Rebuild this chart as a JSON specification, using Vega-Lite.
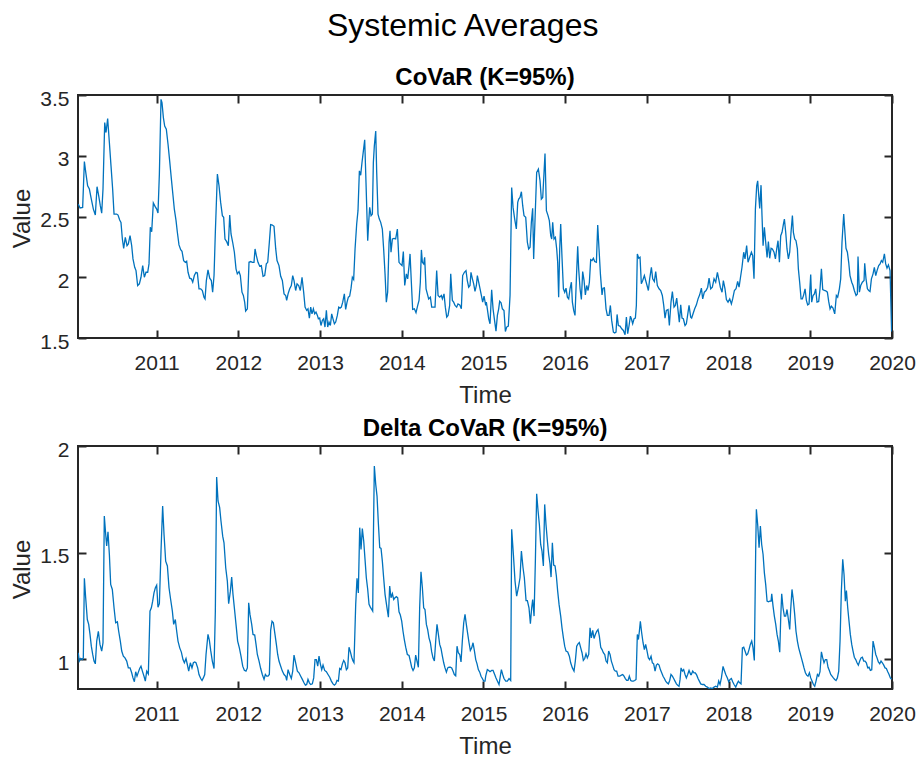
{
  "$schema": "https://vega.github.io/schema/vega-lite/v6.json",
  "background": "white",
  "padding": {"left": 9, "top": 10, "right": 4, "bottom": 0},
  "title": {"text": "Systemic Averages", "fontSize": 32, "fontWeight": "normal", "font": "Liberation Sans", "color": "#000000", "anchor": "middle", "frame": "bounds", "offset": -3, "baseline": "alphabetic"},
  "config": {
    "font": "Liberation Sans",
    "view": {"stroke": "#262626", "strokeWidth": 2},
    "axis": {"grid": false, "domain": false, "tickColor": "#262626", "tickWidth": 2, "tickSize": -8, "labelColor": "#262626", "labelFontSize": 21, "labelFont": "Liberation Sans", "titleFont": "Liberation Sans", "titleFontSize": 24, "titleFontWeight": "normal", "titleColor": "#262626", "labelFlush": false, "labelOverlap": false}
  },
  "bounds": "flush",
  "spacing": 108,
  "datasets": {
    "covar": [
{"t":2010.04,"v":2.602},{"t":2010.062,"v":2.570},{"t":2010.094,"v":2.575},{"t":2010.115,"v":2.953},{"t":2010.135,"v":2.849},{"t":2010.155,"v":2.753},{"t":2010.176,"v":2.726},{"t":2010.200,"v":2.643},{"t":2010.225,"v":2.561},{"t":2010.249,"v":2.512},{"t":2010.270,"v":2.745},{"t":2010.290,"v":2.671},{"t":2010.310,"v":2.589},{"t":2010.327,"v":2.528},{"t":2010.343,"v":2.726},{"t":2010.364,"v":3.273},{"t":2010.380,"v":3.191},{"t":2010.400,"v":3.306},{"t":2010.421,"v":3.109},{"t":2010.441,"v":2.917},{"t":2010.461,"v":2.726},{"t":2010.478,"v":2.520},{"t":2010.510,"v":2.520},{"t":2010.527,"v":2.512},{"t":2010.547,"v":2.471},{"t":2010.563,"v":2.452},{"t":2010.580,"v":2.315},{"t":2010.596,"v":2.238},{"t":2010.616,"v":2.329},{"t":2010.637,"v":2.260},{"t":2010.653,"v":2.274},{"t":2010.674,"v":2.342},{"t":2010.694,"v":2.260},{"t":2010.710,"v":2.151},{"t":2010.731,"v":2.082},{"t":2010.747,"v":2.055},{"t":2010.767,"v":1.932},{"t":2010.788,"v":1.946},{"t":2010.808,"v":2.000},{"t":2010.829,"v":2.096},{"t":2010.849,"v":2.000},{"t":2010.869,"v":2.041},{"t":2010.890,"v":2.041},{"t":2010.906,"v":2.110},{"t":2010.922,"v":2.411},{"t":2010.939,"v":2.375},{"t":2010.959,"v":2.611},{"t":2010.980,"v":2.583},{"t":2011.000,"v":2.561},{"t":2011.016,"v":2.528},{"t":2011.033,"v":2.849},{"t":2011.053,"v":3.464},{"t":2011.065,"v":3.437},{"t":2011.082,"v":3.314},{"t":2011.098,"v":3.245},{"t":2011.118,"v":3.218},{"t":2011.139,"v":3.095},{"t":2011.159,"v":2.958},{"t":2011.180,"v":2.808},{"t":2011.200,"v":2.671},{"t":2011.216,"v":2.561},{"t":2011.237,"v":2.466},{"t":2011.253,"v":2.370},{"t":2011.273,"v":2.266},{"t":2011.294,"v":2.227},{"t":2011.310,"v":2.214},{"t":2011.330,"v":2.137},{"t":2011.351,"v":2.123},{"t":2011.367,"v":2.132},{"t":2011.384,"v":2.041},{"t":2011.404,"v":1.992},{"t":2011.424,"v":1.987},{"t":2011.441,"v":1.959},{"t":2011.461,"v":2.014},{"t":2011.481,"v":2.041},{"t":2011.498,"v":2.036},{"t":2011.518,"v":1.905},{"t":2011.539,"v":1.905},{"t":2011.559,"v":1.891},{"t":2011.579,"v":1.836},{"t":2011.592,"v":1.822},{"t":2011.608,"v":1.973},{"t":2011.628,"v":2.061},{"t":2011.649,"v":1.992},{"t":2011.669,"v":1.973},{"t":2011.685,"v":1.877},{"t":2011.702,"v":2.014},{"t":2011.718,"v":2.370},{"t":2011.743,"v":2.849},{"t":2011.763,"v":2.753},{"t":2011.783,"v":2.616},{"t":2011.804,"v":2.507},{"t":2011.820,"v":2.493},{"t":2011.836,"v":2.315},{"t":2011.857,"v":2.293},{"t":2011.877,"v":2.260},{"t":2011.894,"v":2.512},{"t":2011.910,"v":2.356},{"t":2011.930,"v":2.288},{"t":2011.951,"v":2.206},{"t":2011.971,"v":2.069},{"t":2011.987,"v":2.028},{"t":2012.008,"v":2.047},{"t":2012.024,"v":2.014},{"t":2012.044,"v":1.877},{"t":2012.061,"v":1.850},{"t":2012.077,"v":1.795},{"t":2012.089,"v":1.721},{"t":2012.110,"v":1.740},{"t":2012.130,"v":2.123},{"t":2012.151,"v":2.129},{"t":2012.171,"v":2.123},{"t":2012.191,"v":2.123},{"t":2012.204,"v":2.233},{"t":2012.220,"v":2.178},{"t":2012.240,"v":2.123},{"t":2012.261,"v":2.091},{"t":2012.281,"v":2.096},{"t":2012.302,"v":2.008},{"t":2012.322,"v":2.014},{"t":2012.342,"v":2.110},{"t":2012.359,"v":2.123},{"t":2012.379,"v":2.288},{"t":2012.395,"v":2.433},{"t":2012.416,"v":2.430},{"t":2012.436,"v":2.419},{"t":2012.457,"v":2.233},{"t":2012.473,"v":2.137},{"t":2012.497,"v":2.096},{"t":2012.518,"v":2.008},
{"t":2012.538,"v":1.973},{"t":2012.559,"v":1.863},{"t":2012.579,"v":1.850},{"t":2012.591,"v":1.809},{"t":2012.608,"v":1.863},{"t":2012.628,"v":1.905},{"t":2012.648,"v":1.932},{"t":2012.665,"v":2.014},{"t":2012.681,"v":1.973},{"t":2012.701,"v":1.891},{"t":2012.718,"v":1.946},{"t":2012.738,"v":1.932},{"t":2012.758,"v":1.891},{"t":2012.779,"v":2.000},{"t":2012.799,"v":1.877},{"t":2012.816,"v":1.754},{"t":2012.836,"v":1.727},{"t":2012.852,"v":1.740},{"t":2012.869,"v":1.664},{"t":2012.885,"v":1.754},{"t":2012.901,"v":1.699},{"t":2012.918,"v":1.740},{"t":2012.934,"v":1.699},{"t":2012.950,"v":1.713},{"t":2012.967,"v":1.686},{"t":2012.979,"v":1.658},{"t":2012.995,"v":1.664},{"t":2013.011,"v":1.603},{"t":2013.028,"v":1.645},{"t":2013.044,"v":1.658},{"t":2013.060,"v":1.590},{"t":2013.077,"v":1.727},{"t":2013.093,"v":1.590},{"t":2013.109,"v":1.631},{"t":2013.126,"v":1.603},{"t":2013.142,"v":1.699},{"t":2013.158,"v":1.658},{"t":2013.175,"v":1.617},{"t":2013.191,"v":1.631},{"t":2013.211,"v":1.686},{"t":2013.228,"v":1.754},{"t":2013.244,"v":1.746},{"t":2013.260,"v":1.754},{"t":2013.277,"v":1.795},{"t":2013.297,"v":1.863},{"t":2013.313,"v":1.735},{"t":2013.330,"v":1.795},{"t":2013.346,"v":1.836},{"t":2013.362,"v":1.844},{"t":2013.379,"v":1.910},{"t":2013.395,"v":2.000},{"t":2013.411,"v":1.981},{"t":2013.428,"v":2.233},{"t":2013.448,"v":2.438},{"t":2013.464,"v":2.548},{"t":2013.481,"v":2.876},{"t":2013.497,"v":2.840},{"t":2013.513,"v":2.944},{"t":2013.530,"v":3.040},{"t":2013.546,"v":3.131},{"t":2013.562,"v":2.780},{"t":2013.583,"v":2.301},{"t":2013.595,"v":2.452},{"t":2013.607,"v":2.575},{"t":2013.624,"v":2.507},{"t":2013.640,"v":2.520},{"t":2013.652,"v":2.944},{"t":2013.664,"v":3.081},{"t":2013.681,"v":3.204},{"t":2013.693,"v":2.862},{"t":2013.709,"v":2.520},{"t":2013.725,"v":2.479},{"t":2013.742,"v":2.452},{"t":2013.762,"v":2.397},{"t":2013.778,"v":2.233},{"t":2013.795,"v":2.028},{"t":2013.811,"v":1.795},{"t":2013.827,"v":1.877},{"t":2013.844,"v":2.288},{"t":2013.856,"v":2.383},{"t":2013.868,"v":2.206},{"t":2013.885,"v":2.315},{"t":2013.905,"v":2.320},{"t":2013.925,"v":2.315},{"t":2013.946,"v":2.397},{"t":2013.966,"v":2.123},{"t":2013.982,"v":2.110},{"t":2014.003,"v":2.096},{"t":2014.019,"v":2.211},{"t":2014.036,"v":1.932},{"t":2014.056,"v":2.028},{"t":2014.072,"v":1.987},{"t":2014.089,"v":2.096},{"t":2014.101,"v":2.192},{"t":2014.117,"v":1.959},{"t":2014.133,"v":1.735},{"t":2014.154,"v":1.740},{"t":2014.174,"v":1.708},{"t":2014.195,"v":1.768},{"t":2014.211,"v":1.809},{"t":2014.227,"v":1.959},{"t":2014.240,"v":2.225},{"t":2014.252,"v":2.123},{"t":2014.268,"v":2.110},{"t":2014.280,"v":2.164},{"t":2014.297,"v":1.905},{"t":2014.313,"v":1.863},{"t":2014.329,"v":1.822},{"t":2014.350,"v":1.836},{"t":2014.366,"v":1.754},{"t":2014.386,"v":1.754},{"t":2014.407,"v":1.754},{"t":2014.427,"v":2.055},{"t":2014.444,"v":1.850},{"t":2014.464,"v":1.836},{"t":2014.484,"v":1.850},{"t":2014.497,"v":1.822},{"t":2014.517,"v":1.863},{"t":2014.533,"v":1.754},{"t":2014.550,"v":1.672},{"t":2014.566,"v":1.686},{"t":2014.586,"v":1.768},{"t":2014.599,"v":2.028},{"t":2014.619,"v":1.809},{"t":2014.635,"v":1.795},{"t":2014.652,"v":1.768},{"t":2014.672,"v":1.754},{"t":2014.688,"v":1.781},{"t":2014.709,"v":1.773},{"t":2014.729,"v":1.740},{"t":2014.745,"v":2.014},{"t":2014.766,"v":2.041},{"t":2014.786,"v":2.055},{"t":2014.802,"v":1.973},{"t":2014.819,"v":1.918},{"t":2014.835,"v":1.932},{"t":2014.847,"v":2.041},{"t":2014.864,"v":1.987},{"t":2014.880,"v":1.946},{"t":2014.896,"v":1.883},{"t":2014.913,"v":1.932},{"t":2014.925,"v":2.014},{"t":2014.941,"v":1.959},{"t":2014.958,"v":1.905},{"t":2014.974,"v":1.850},{"t":2014.990,"v":1.795},{"t":2015.007,"v":1.844},{"t":2015.027,"v":1.768},
{"t":2015.035,"v":1.795},{"t":2015.047,"v":1.740},{"t":2015.064,"v":1.658},{"t":2015.080,"v":1.617},{"t":2015.100,"v":1.896},{"t":2015.117,"v":1.740},{"t":2015.133,"v":1.658},{"t":2015.153,"v":1.557},{"t":2015.170,"v":1.686},{"t":2015.186,"v":1.740},{"t":2015.198,"v":1.803},{"t":2015.215,"v":1.790},{"t":2015.231,"v":1.740},{"t":2015.251,"v":1.727},{"t":2015.268,"v":1.554},{"t":2015.284,"v":1.590},{"t":2015.304,"v":1.598},{"t":2015.325,"v":1.850},{"t":2015.345,"v":2.739},{"t":2015.362,"v":2.575},{"t":2015.382,"v":2.479},{"t":2015.402,"v":2.397},{"t":2015.419,"v":2.616},{"t":2015.431,"v":2.643},{"t":2015.447,"v":2.657},{"t":2015.464,"v":2.704},{"t":2015.480,"v":2.589},{"t":2015.496,"v":2.507},{"t":2015.517,"v":2.493},{"t":2015.537,"v":2.288},{"t":2015.553,"v":2.233},{"t":2015.570,"v":2.247},{"t":2015.586,"v":2.452},{"t":2015.602,"v":2.567},{"t":2015.614,"v":2.151},{"t":2015.631,"v":2.479},{"t":2015.651,"v":2.862},{"t":2015.672,"v":2.890},{"t":2015.692,"v":2.794},{"t":2015.708,"v":2.643},{"t":2015.725,"v":2.657},{"t":2015.741,"v":2.862},{"t":2015.753,"v":3.018},{"t":2015.770,"v":2.548},{"t":2015.790,"v":2.507},{"t":2015.806,"v":2.466},{"t":2015.823,"v":2.342},{"t":2015.835,"v":2.315},{"t":2015.847,"v":2.452},{"t":2015.863,"v":2.315},{"t":2015.880,"v":2.329},{"t":2015.896,"v":2.233},{"t":2015.908,"v":2.123},{"t":2015.920,"v":1.836},{"t":2015.933,"v":2.233},{"t":2015.945,"v":2.438},{"t":2015.961,"v":2.164},{"t":2015.978,"v":1.905},{"t":2015.994,"v":1.877},{"t":2016.010,"v":1.910},{"t":2016.027,"v":1.836},{"t":2016.043,"v":1.822},{"t":2016.059,"v":1.905},{"t":2016.076,"v":1.959},{"t":2016.088,"v":1.795},{"t":2016.104,"v":1.727},{"t":2016.120,"v":1.686},{"t":2016.137,"v":1.987},{"t":2016.153,"v":2.255},{"t":2016.165,"v":2.069},{"t":2016.182,"v":1.905},{"t":2016.198,"v":1.817},{"t":2016.214,"v":2.047},{"t":2016.231,"v":1.973},{"t":2016.247,"v":1.855},{"t":2016.263,"v":1.932},{"t":2016.280,"v":1.891},{"t":2016.296,"v":1.959},{"t":2016.312,"v":2.145},{"t":2016.328,"v":2.137},{"t":2016.345,"v":2.156},{"t":2016.361,"v":2.129},{"t":2016.382,"v":2.123},{"t":2016.398,"v":2.430},{"t":2016.414,"v":2.233},{"t":2016.431,"v":2.028},{"t":2016.451,"v":1.855},{"t":2016.463,"v":1.910},{"t":2016.480,"v":1.913},{"t":2016.500,"v":1.740},{"t":2016.516,"v":1.686},{"t":2016.537,"v":1.686},{"t":2016.553,"v":1.768},{"t":2016.569,"v":1.645},{"t":2016.590,"v":1.549},{"t":2016.606,"v":1.541},{"t":2016.622,"v":1.549},{"t":2016.635,"v":1.694},{"t":2016.651,"v":1.603},{"t":2016.671,"v":1.598},{"t":2016.692,"v":1.576},{"t":2016.712,"v":1.562},{"t":2016.733,"v":1.527},{"t":2016.749,"v":1.672},{"t":2016.765,"v":1.535},{"t":2016.782,"v":1.603},{"t":2016.798,"v":1.680},{"t":2016.810,"v":1.658},{"t":2016.826,"v":1.617},{"t":2016.843,"v":1.658},{"t":2016.859,"v":1.664},{"t":2016.871,"v":1.768},{"t":2016.883,"v":2.192},{"t":2016.900,"v":2.156},{"t":2016.916,"v":2.164},{"t":2016.932,"v":1.946},{"t":2016.949,"v":1.973},{"t":2016.969,"v":2.014},{"t":2016.985,"v":1.973},{"t":2017.002,"v":1.932},{"t":2017.018,"v":1.891},{"t":2017.034,"v":1.987},{"t":2017.055,"v":2.082},{"t":2017.071,"v":1.987},{"t":2017.091,"v":1.965},{"t":2017.108,"v":2.047},{"t":2017.128,"v":1.932},{"t":2017.149,"v":1.905},{"t":2017.169,"v":1.891},{"t":2017.189,"v":1.850},{"t":2017.206,"v":1.768},{"t":2017.222,"v":1.664},{"t":2017.238,"v":1.727},{"t":2017.259,"v":1.735},{"t":2017.275,"v":1.603},{"t":2017.295,"v":1.795},{"t":2017.312,"v":1.883},{"t":2017.332,"v":1.754},{"t":2017.348,"v":1.768},{"t":2017.365,"v":1.828},{"t":2017.381,"v":1.727},{"t":2017.397,"v":1.631},{"t":2017.414,"v":1.773},{"t":2017.430,"v":1.664},{"t":2017.446,"v":1.658},{"t":2017.467,"v":1.603},{"t":2017.483,"v":1.617},{"t":2017.499,"v":1.691},{"t":2017.516,"v":1.768},{"t":2017.536,"v":1.672},
{"t":2017.548,"v":1.664},{"t":2017.565,"v":1.699},{"t":2017.585,"v":1.740},{"t":2017.606,"v":1.773},{"t":2017.626,"v":1.822},{"t":2017.646,"v":1.855},{"t":2017.667,"v":1.910},{"t":2017.683,"v":1.822},{"t":2017.703,"v":1.877},{"t":2017.724,"v":1.891},{"t":2017.744,"v":1.918},{"t":2017.761,"v":1.992},{"t":2017.781,"v":1.905},{"t":2017.801,"v":1.918},{"t":2017.822,"v":1.987},{"t":2017.842,"v":1.959},{"t":2017.863,"v":2.041},{"t":2017.879,"v":1.987},{"t":2017.899,"v":1.918},{"t":2017.920,"v":1.877},{"t":2017.936,"v":1.973},{"t":2017.956,"v":1.905},{"t":2017.973,"v":1.817},{"t":2017.993,"v":1.795},{"t":2018.014,"v":1.822},{"t":2018.034,"v":1.781},{"t":2018.050,"v":1.822},{"t":2018.071,"v":1.891},{"t":2018.091,"v":1.905},{"t":2018.111,"v":1.965},{"t":2018.128,"v":1.918},{"t":2018.144,"v":1.992},{"t":2018.164,"v":2.082},{"t":2018.185,"v":2.206},{"t":2018.201,"v":2.151},{"t":2018.221,"v":2.260},{"t":2018.238,"v":2.123},{"t":2018.258,"v":2.164},{"t":2018.279,"v":2.206},{"t":2018.295,"v":2.178},{"t":2018.311,"v":1.987},{"t":2018.328,"v":2.561},{"t":2018.344,"v":2.753},{"t":2018.356,"v":2.794},{"t":2018.369,"v":2.671},{"t":2018.381,"v":2.567},{"t":2018.397,"v":2.758},{"t":2018.409,"v":2.507},{"t":2018.422,"v":2.260},{"t":2018.438,"v":2.411},{"t":2018.454,"v":2.288},{"t":2018.471,"v":2.164},{"t":2018.487,"v":2.293},{"t":2018.503,"v":2.156},{"t":2018.520,"v":2.238},{"t":2018.536,"v":2.233},{"t":2018.556,"v":2.206},{"t":2018.573,"v":2.151},{"t":2018.589,"v":2.233},{"t":2018.605,"v":2.301},{"t":2018.622,"v":2.123},{"t":2018.638,"v":2.342},{"t":2018.654,"v":2.370},{"t":2018.671,"v":2.438},{"t":2018.683,"v":2.479},{"t":2018.699,"v":2.370},{"t":2018.715,"v":2.233},{"t":2018.732,"v":2.151},{"t":2018.748,"v":2.206},{"t":2018.764,"v":2.370},{"t":2018.781,"v":2.507},{"t":2018.793,"v":2.370},{"t":2018.809,"v":2.315},{"t":2018.825,"v":2.301},{"t":2018.842,"v":2.233},{"t":2018.854,"v":2.069},{"t":2018.870,"v":1.959},{"t":2018.887,"v":1.822},{"t":2018.903,"v":1.822},{"t":2018.919,"v":1.855},{"t":2018.936,"v":1.905},{"t":2018.952,"v":1.809},{"t":2018.968,"v":1.773},{"t":2018.985,"v":1.781},{"t":2019.005,"v":2.022},{"t":2019.017,"v":1.795},{"t":2019.034,"v":1.850},{"t":2019.050,"v":1.863},{"t":2019.066,"v":1.905},{"t":2019.082,"v":1.795},{"t":2019.103,"v":1.801},{"t":2019.119,"v":1.905},{"t":2019.136,"v":2.069},{"t":2019.152,"v":1.899},{"t":2019.172,"v":1.891},{"t":2019.189,"v":1.888},{"t":2019.209,"v":1.877},{"t":2019.225,"v":1.801},{"t":2019.242,"v":1.740},{"t":2019.258,"v":1.762},{"t":2019.278,"v":1.746},{"t":2019.299,"v":1.699},{"t":2019.319,"v":1.850},{"t":2019.335,"v":1.836},{"t":2019.356,"v":1.905},{"t":2019.372,"v":1.987},{"t":2019.388,"v":2.288},{"t":2019.409,"v":2.520},{"t":2019.421,"v":2.397},{"t":2019.437,"v":2.238},{"t":2019.454,"v":2.206},{"t":2019.470,"v":2.123},{"t":2019.486,"v":2.014},{"t":2019.507,"v":1.959},{"t":2019.523,"v":1.932},{"t":2019.539,"v":1.891},{"t":2019.560,"v":1.850},{"t":2019.576,"v":1.863},{"t":2019.584,"v":2.170},{"t":2019.601,"v":1.877},{"t":2019.617,"v":1.932},{"t":2019.637,"v":1.959},{"t":2019.658,"v":1.973},{"t":2019.666,"v":2.115},{"t":2019.682,"v":1.987},{"t":2019.699,"v":1.905},{"t":2019.715,"v":1.891},{"t":2019.731,"v":1.883},{"t":2019.748,"v":1.987},{"t":2019.768,"v":2.028},{"t":2019.784,"v":2.082},{"t":2019.801,"v":2.014},{"t":2019.817,"v":2.055},{"t":2019.837,"v":2.096},{"t":2019.854,"v":2.110},{"t":2019.870,"v":2.137},{"t":2019.886,"v":2.123},{"t":2019.907,"v":2.192},{"t":2019.923,"v":2.110},{"t":2019.939,"v":2.075},{"t":2019.956,"v":2.102},{"t":2019.976,"v":2.055},{"t":2019.995,"v":1.554}
    ],
    "delta": [
{"t":2010.04,"v":1.030},{"t":2010.053,"v":0.991},{"t":2010.070,"v":1.003},{"t":2010.090,"v":0.998},{"t":2010.102,"v":1.006},{"t":2010.115,"v":1.379},{"t":2010.131,"v":1.288},{"t":2010.151,"v":1.186},{"t":2010.168,"v":1.163},{"t":2010.184,"v":1.116},{"t":2010.200,"v":1.061},{"t":2010.217,"v":1.022},{"t":2010.233,"v":0.991},{"t":2010.249,"v":0.978},{"t":2010.266,"v":1.085},{"t":2010.286,"v":1.131},{"t":2010.306,"v":1.069},{"t":2010.327,"v":1.038},{"t":2010.343,"v":1.077},{"t":2010.359,"v":1.671},{"t":2010.376,"v":1.585},{"t":2010.388,"v":1.531},{"t":2010.404,"v":1.598},{"t":2010.421,"v":1.491},{"t":2010.437,"v":1.351},{"t":2010.457,"v":1.327},{"t":2010.478,"v":1.241},{"t":2010.498,"v":1.171},{"t":2010.519,"v":1.175},{"t":2010.535,"v":1.131},{"t":2010.555,"v":1.085},{"t":2010.572,"v":1.038},{"t":2010.592,"v":1.014},{"t":2010.612,"v":1.006},{"t":2010.633,"v":0.991},{"t":2010.653,"v":0.959},{"t":2010.674,"v":0.959},{"t":2010.694,"v":0.936},{"t":2010.710,"v":0.912},{"t":2010.727,"v":0.894},{"t":2010.743,"v":0.941},{"t":2010.759,"v":0.920},{"t":2010.776,"v":0.939},{"t":2010.792,"v":0.956},{"t":2010.808,"v":0.967},{"t":2010.825,"v":0.944},{"t":2010.845,"v":0.920},{"t":2010.861,"v":0.897},{"t":2010.878,"v":0.944},{"t":2010.898,"v":0.931},{"t":2010.918,"v":1.225},{"t":2010.935,"v":1.241},{"t":2010.951,"v":1.272},{"t":2010.967,"v":1.311},{"t":2010.984,"v":1.335},{"t":2011.000,"v":1.347},{"t":2011.016,"v":1.244},{"t":2011.033,"v":1.260},{"t":2011.053,"v":1.507},{"t":2011.073,"v":1.718},{"t":2011.090,"v":1.585},{"t":2011.110,"v":1.460},{"t":2011.131,"v":1.437},{"t":2011.151,"v":1.335},{"t":2011.171,"v":1.280},{"t":2011.192,"v":1.225},{"t":2011.208,"v":1.163},{"t":2011.228,"v":1.186},{"t":2011.245,"v":1.131},{"t":2011.261,"v":1.085},{"t":2011.282,"v":1.053},{"t":2011.302,"v":1.033},{"t":2011.322,"v":0.998},{"t":2011.339,"v":0.983},{"t":2011.359,"v":1.003},{"t":2011.375,"v":0.975},{"t":2011.392,"v":0.944},{"t":2011.412,"v":0.983},{"t":2011.432,"v":0.959},{"t":2011.449,"v":0.983},{"t":2011.465,"v":0.987},{"t":2011.481,"v":0.983},{"t":2011.502,"v":0.959},{"t":2011.518,"v":0.928},{"t":2011.539,"v":0.909},{"t":2011.555,"v":0.900},{"t":2011.571,"v":0.912},{"t":2011.588,"v":0.928},{"t":2011.604,"v":1.022},{"t":2011.628,"v":1.116},{"t":2011.645,"v":1.088},{"t":2011.661,"v":1.041},{"t":2011.681,"v":0.991},{"t":2011.702,"v":0.956},{"t":2011.718,"v":1.225},{"t":2011.734,"v":1.854},{"t":2011.751,"v":1.742},{"t":2011.771,"v":1.711},{"t":2011.787,"v":1.648},{"t":2011.808,"v":1.577},{"t":2011.824,"v":1.546},{"t":2011.845,"v":1.429},{"t":2011.865,"v":1.366},{"t":2011.881,"v":1.260},{"t":2011.902,"v":1.319},{"t":2011.918,"v":1.385},{"t":2011.934,"v":1.304},{"t":2011.955,"v":1.225},{"t":2011.971,"v":1.163},{"t":2011.991,"v":1.085},{"t":2012.012,"v":1.053},{"t":2012.032,"v":1.014},{"t":2012.053,"v":0.967},{"t":2012.073,"v":0.948},{"t":2012.093,"v":0.944},{"t":2012.110,"v":0.959},{"t":2012.126,"v":1.264},{"t":2012.142,"v":1.210},{"t":2012.163,"v":1.163},{"t":2012.179,"v":1.116},{"t":2012.200,"v":1.113},{"t":2012.216,"v":1.069},{"t":2012.232,"v":1.022},{"t":2012.253,"v":0.991},{"t":2012.273,"v":0.956},{"t":2012.293,"v":0.928},{"t":2012.314,"v":0.905},{"t":2012.330,"v":0.928},{"t":2012.346,"v":0.920},{"t":2012.363,"v":0.920},{"t":2012.379,"v":0.928},{"t":2012.395,"v":1.135},{"t":2012.412,"v":1.178},{"t":2012.428,"v":1.171},{"t":2012.448,"v":1.116},{"t":2012.465,"v":1.069},{"t":2012.481,"v":1.022},{"t":2012.497,"v":0.991},{"t":2012.518,"v":0.967},
{"t":2012.538,"v":0.944},{"t":2012.559,"v":0.928},{"t":2012.579,"v":0.920},{"t":2012.591,"v":0.900},{"t":2012.608,"v":0.951},{"t":2012.628,"v":0.928},{"t":2012.648,"v":0.909},{"t":2012.665,"v":0.944},{"t":2012.681,"v":1.019},{"t":2012.701,"v":0.983},{"t":2012.722,"v":0.944},{"t":2012.742,"v":0.936},{"t":2012.763,"v":0.920},{"t":2012.783,"v":0.905},{"t":2012.803,"v":0.889},{"t":2012.820,"v":0.878},{"t":2012.836,"v":0.881},{"t":2012.852,"v":0.905},{"t":2012.869,"v":0.889},{"t":2012.885,"v":0.881},{"t":2012.905,"v":0.884},{"t":2012.922,"v":0.912},{"t":2012.938,"v":0.998},{"t":2012.954,"v":0.998},{"t":2012.971,"v":0.967},{"t":2012.987,"v":1.014},{"t":2013.003,"v":0.978},{"t":2013.020,"v":0.951},{"t":2013.036,"v":0.972},{"t":2013.056,"v":0.947},{"t":2013.077,"v":0.941},{"t":2013.097,"v":0.928},{"t":2013.118,"v":0.915},{"t":2013.138,"v":0.897},{"t":2013.158,"v":0.884},{"t":2013.175,"v":0.878},{"t":2013.191,"v":0.884},{"t":2013.207,"v":0.900},{"t":2013.224,"v":0.897},{"t":2013.240,"v":0.956},{"t":2013.256,"v":0.951},{"t":2013.273,"v":0.978},{"t":2013.289,"v":0.994},{"t":2013.305,"v":0.983},{"t":2013.322,"v":0.951},{"t":2013.338,"v":0.959},{"t":2013.354,"v":1.056},{"t":2013.371,"v":1.034},{"t":2013.387,"v":1.009},{"t":2013.403,"v":0.991},{"t":2013.415,"v":0.983},{"t":2013.436,"v":1.257},{"t":2013.452,"v":1.379},{"t":2013.468,"v":1.311},{"t":2013.485,"v":1.617},{"t":2013.501,"v":1.515},{"t":2013.517,"v":1.613},{"t":2013.534,"v":1.554},{"t":2013.550,"v":1.468},{"t":2013.566,"v":1.382},{"t":2013.583,"v":1.327},{"t":2013.599,"v":1.257},{"t":2013.615,"v":1.244},{"t":2013.632,"v":1.233},{"t":2013.644,"v":1.225},{"t":2013.652,"v":1.554},{"t":2013.664,"v":1.906},{"t":2013.681,"v":1.820},{"t":2013.697,"v":1.765},{"t":2013.713,"v":1.640},{"t":2013.730,"v":1.523},{"t":2013.746,"v":1.520},{"t":2013.762,"v":1.460},{"t":2013.778,"v":1.382},{"t":2013.795,"v":1.304},{"t":2013.819,"v":1.241},{"t":2013.836,"v":1.197},{"t":2013.852,"v":1.343},{"t":2013.868,"v":1.288},{"t":2013.885,"v":1.307},{"t":2013.901,"v":1.280},{"t":2013.917,"v":1.288},{"t":2013.934,"v":1.293},{"t":2013.950,"v":1.288},{"t":2013.966,"v":1.222},{"t":2013.982,"v":1.207},{"t":2013.999,"v":1.178},{"t":2014.015,"v":1.131},{"t":2014.031,"v":1.092},{"t":2014.048,"v":1.056},{"t":2014.068,"v":1.022},{"t":2014.089,"v":1.017},{"t":2014.105,"v":0.991},{"t":2014.121,"v":0.962},{"t":2014.138,"v":0.947},{"t":2014.154,"v":0.959},{"t":2014.170,"v":1.019},{"t":2014.186,"v":0.991},{"t":2014.203,"v":0.962},{"t":2014.219,"v":1.244},{"t":2014.235,"v":1.410},{"t":2014.252,"v":1.335},{"t":2014.268,"v":1.241},{"t":2014.284,"v":1.233},{"t":2014.301,"v":1.163},{"t":2014.317,"v":1.139},{"t":2014.333,"v":1.100},{"t":2014.350,"v":1.077},{"t":2014.366,"v":1.034},{"t":2014.382,"v":1.006},{"t":2014.399,"v":0.991},{"t":2014.415,"v":1.085},{"t":2014.431,"v":1.163},{"t":2014.448,"v":1.116},{"t":2014.464,"v":1.069},{"t":2014.480,"v":1.050},{"t":2014.497,"v":1.014},{"t":2014.513,"v":0.983},{"t":2014.529,"v":0.959},{"t":2014.546,"v":0.939},{"t":2014.562,"v":0.959},{"t":2014.578,"v":0.962},{"t":2014.594,"v":0.962},{"t":2014.611,"v":0.959},{"t":2014.627,"v":0.944},{"t":2014.643,"v":0.928},{"t":2014.660,"v":0.922},{"t":2014.676,"v":1.061},{"t":2014.692,"v":1.030},{"t":2014.709,"v":1.022},{"t":2014.725,"v":0.987},{"t":2014.741,"v":1.085},{"t":2014.758,"v":1.171},{"t":2014.774,"v":1.210},{"t":2014.790,"v":1.163},{"t":2014.807,"v":1.119},{"t":2014.823,"v":1.077},{"t":2014.839,"v":1.041},{"t":2014.856,"v":1.053},{"t":2014.872,"v":1.077},{"t":2014.888,"v":1.041},{"t":2014.905,"v":0.998},{"t":2014.921,"v":0.978},{"t":2014.937,"v":0.951},{"t":2014.954,"v":0.939},{"t":2014.970,"v":0.920},{"t":2014.986,"v":0.909},{"t":2015.002,"v":0.897},{"t":2015.019,"v":0.897},
{"t":2015.027,"v":0.920},{"t":2015.047,"v":0.951},{"t":2015.064,"v":0.947},{"t":2015.080,"v":0.941},{"t":2015.100,"v":0.947},{"t":2015.117,"v":0.947},{"t":2015.137,"v":0.928},{"t":2015.153,"v":0.912},{"t":2015.174,"v":0.894},{"t":2015.190,"v":0.881},{"t":2015.206,"v":0.920},{"t":2015.219,"v":0.951},{"t":2015.235,"v":0.928},{"t":2015.251,"v":0.909},{"t":2015.272,"v":0.897},{"t":2015.292,"v":0.897},{"t":2015.313,"v":0.909},{"t":2015.333,"v":0.900},{"t":2015.345,"v":1.609},{"t":2015.366,"v":1.491},{"t":2015.386,"v":1.366},{"t":2015.406,"v":1.296},{"t":2015.427,"v":1.335},{"t":2015.447,"v":1.382},{"t":2015.464,"v":1.507},{"t":2015.484,"v":1.429},{"t":2015.500,"v":1.382},{"t":2015.521,"v":1.275},{"t":2015.537,"v":1.275},{"t":2015.557,"v":1.241},{"t":2015.574,"v":1.166},{"t":2015.590,"v":1.241},{"t":2015.602,"v":1.280},{"t":2015.619,"v":1.202},{"t":2015.635,"v":1.460},{"t":2015.651,"v":1.776},{"t":2015.668,"v":1.695},{"t":2015.684,"v":1.632},{"t":2015.700,"v":1.538},{"t":2015.716,"v":1.507},{"t":2015.733,"v":1.437},{"t":2015.749,"v":1.726},{"t":2015.765,"v":1.632},{"t":2015.782,"v":1.554},{"t":2015.798,"v":1.491},{"t":2015.814,"v":1.448},{"t":2015.827,"v":1.385},{"t":2015.843,"v":1.546},{"t":2015.859,"v":1.441},{"t":2015.876,"v":1.437},{"t":2015.892,"v":1.390},{"t":2015.908,"v":1.319},{"t":2015.925,"v":1.257},{"t":2015.945,"v":1.202},{"t":2015.961,"v":1.147},{"t":2015.978,"v":1.100},{"t":2015.994,"v":1.061},{"t":2016.010,"v":1.038},{"t":2016.031,"v":1.034},{"t":2016.051,"v":1.014},{"t":2016.067,"v":0.983},{"t":2016.088,"v":0.959},{"t":2016.108,"v":0.944},{"t":2016.124,"v":0.991},{"t":2016.141,"v":1.061},{"t":2016.157,"v":1.072},{"t":2016.173,"v":1.078},{"t":2016.190,"v":1.053},{"t":2016.206,"v":1.030},{"t":2016.222,"v":0.994},{"t":2016.239,"v":1.003},{"t":2016.255,"v":1.025},{"t":2016.271,"v":1.006},{"t":2016.288,"v":1.022},{"t":2016.304,"v":1.147},{"t":2016.320,"v":1.100},{"t":2016.337,"v":1.135},{"t":2016.353,"v":1.097},{"t":2016.369,"v":1.116},{"t":2016.386,"v":1.131},{"t":2016.402,"v":1.139},{"t":2016.418,"v":1.108},{"t":2016.435,"v":1.056},{"t":2016.451,"v":1.045},{"t":2016.467,"v":1.030},{"t":2016.484,"v":1.022},{"t":2016.500,"v":0.991},{"t":2016.516,"v":0.983},{"t":2016.532,"v":1.038},{"t":2016.549,"v":1.022},{"t":2016.565,"v":0.991},{"t":2016.581,"v":0.972},{"t":2016.598,"v":0.951},{"t":2016.614,"v":0.944},{"t":2016.630,"v":0.944},{"t":2016.647,"v":0.920},{"t":2016.667,"v":0.920},{"t":2016.688,"v":0.925},{"t":2016.704,"v":0.928},{"t":2016.720,"v":0.920},{"t":2016.736,"v":0.909},{"t":2016.753,"v":0.900},{"t":2016.769,"v":0.900},{"t":2016.785,"v":0.920},{"t":2016.802,"v":0.900},{"t":2016.818,"v":0.897},{"t":2016.834,"v":0.897},{"t":2016.851,"v":0.900},{"t":2016.867,"v":0.905},{"t":2016.883,"v":1.116},{"t":2016.896,"v":1.092},{"t":2016.908,"v":1.131},{"t":2016.920,"v":1.178},{"t":2016.936,"v":1.124},{"t":2016.953,"v":1.077},{"t":2016.969,"v":1.045},{"t":2016.985,"v":1.069},{"t":2017.002,"v":1.038},{"t":2017.018,"v":1.006},{"t":2017.034,"v":0.998},{"t":2017.051,"v":1.014},{"t":2017.067,"v":0.983},{"t":2017.083,"v":0.978},{"t":2017.100,"v":0.944},{"t":2017.116,"v":0.972},{"t":2017.132,"v":0.978},{"t":2017.149,"v":0.972},{"t":2017.165,"v":0.951},{"t":2017.181,"v":0.936},{"t":2017.198,"v":0.920},{"t":2017.214,"v":0.909},{"t":2017.230,"v":0.897},{"t":2017.246,"v":0.889},{"t":2017.263,"v":0.884},{"t":2017.279,"v":0.900},{"t":2017.295,"v":0.928},{"t":2017.312,"v":0.920},{"t":2017.328,"v":0.909},{"t":2017.344,"v":0.897},{"t":2017.361,"v":0.884},{"t":2017.377,"v":0.878},{"t":2017.393,"v":0.873},{"t":2017.406,"v":0.905},{"t":2017.418,"v":0.959},{"t":2017.434,"v":0.944},{"t":2017.450,"v":0.951},{"t":2017.467,"v":0.928},{"t":2017.483,"v":0.912},{"t":2017.499,"v":0.928},{"t":2017.516,"v":0.947},{"t":2017.536,"v":0.928},
{"t":2017.544,"v":0.928},{"t":2017.561,"v":0.944},{"t":2017.577,"v":0.936},{"t":2017.593,"v":0.936},{"t":2017.610,"v":0.925},{"t":2017.626,"v":0.909},{"t":2017.642,"v":0.897},{"t":2017.659,"v":0.884},{"t":2017.679,"v":0.881},{"t":2017.699,"v":0.881},{"t":2017.720,"v":0.873},{"t":2017.740,"v":0.869},{"t":2017.761,"v":0.862},{"t":2017.781,"v":0.865},{"t":2017.801,"v":0.862},{"t":2017.822,"v":0.869},{"t":2017.842,"v":0.873},{"t":2017.863,"v":0.869},{"t":2017.879,"v":0.897},{"t":2017.895,"v":0.881},{"t":2017.912,"v":0.912},{"t":2017.932,"v":0.966},{"t":2017.948,"v":0.947},{"t":2017.965,"v":0.928},{"t":2017.985,"v":0.912},{"t":2018.001,"v":0.894},{"t":2018.018,"v":0.905},{"t":2018.034,"v":0.909},{"t":2018.050,"v":0.894},{"t":2018.067,"v":0.881},{"t":2018.087,"v":0.869},{"t":2018.103,"v":0.884},{"t":2018.120,"v":0.897},{"t":2018.136,"v":0.889},{"t":2018.152,"v":0.884},{"t":2018.169,"v":1.053},{"t":2018.185,"v":1.056},{"t":2018.201,"v":1.038},{"t":2018.218,"v":1.019},{"t":2018.234,"v":1.025},{"t":2018.250,"v":1.045},{"t":2018.266,"v":1.069},{"t":2018.283,"v":1.085},{"t":2018.299,"v":1.053},{"t":2018.315,"v":0.994},{"t":2018.332,"v":1.523},{"t":2018.340,"v":1.703},{"t":2018.356,"v":1.632},{"t":2018.373,"v":1.523},{"t":2018.389,"v":1.624},{"t":2018.405,"v":1.538},{"t":2018.422,"v":1.491},{"t":2018.438,"v":1.405},{"t":2018.454,"v":1.351},{"t":2018.471,"v":1.272},{"t":2018.487,"v":1.269},{"t":2018.503,"v":1.272},{"t":2018.520,"v":1.272},{"t":2018.528,"v":1.307},{"t":2018.544,"v":1.249},{"t":2018.560,"v":1.202},{"t":2018.577,"v":1.163},{"t":2018.593,"v":1.116},{"t":2018.609,"v":1.085},{"t":2018.626,"v":1.033},{"t":2018.638,"v":1.194},{"t":2018.650,"v":1.307},{"t":2018.666,"v":1.241},{"t":2018.683,"v":1.202},{"t":2018.699,"v":1.202},{"t":2018.715,"v":1.233},{"t":2018.732,"v":1.186},{"t":2018.748,"v":1.139},{"t":2018.760,"v":1.233},{"t":2018.776,"v":1.327},{"t":2018.793,"v":1.275},{"t":2018.809,"v":1.210},{"t":2018.825,"v":1.131},{"t":2018.842,"v":1.085},{"t":2018.858,"v":1.053},{"t":2018.874,"v":1.030},{"t":2018.891,"v":1.006},{"t":2018.907,"v":0.983},{"t":2018.923,"v":0.959},{"t":2018.940,"v":0.936},{"t":2018.956,"v":0.925},{"t":2018.972,"v":0.920},{"t":2018.989,"v":0.936},{"t":2019.005,"v":0.912},{"t":2019.021,"v":0.897},{"t":2019.038,"v":0.881},{"t":2019.054,"v":0.873},{"t":2019.070,"v":0.897},{"t":2019.087,"v":0.928},{"t":2019.103,"v":0.920},{"t":2019.119,"v":0.941},{"t":2019.136,"v":1.034},{"t":2019.152,"v":1.006},{"t":2019.168,"v":0.983},{"t":2019.184,"v":0.998},{"t":2019.201,"v":0.998},{"t":2019.217,"v":0.962},{"t":2019.233,"v":0.947},{"t":2019.250,"v":0.928},{"t":2019.266,"v":0.920},{"t":2019.282,"v":0.912},{"t":2019.299,"v":0.905},{"t":2019.315,"v":0.900},{"t":2019.331,"v":0.912},{"t":2019.348,"v":0.944},{"t":2019.364,"v":1.085},{"t":2019.380,"v":1.319},{"t":2019.397,"v":1.468},{"t":2019.413,"v":1.397},{"t":2019.429,"v":1.272},{"t":2019.442,"v":1.322},{"t":2019.458,"v":1.241},{"t":2019.474,"v":1.178},{"t":2019.490,"v":1.116},{"t":2019.507,"v":1.069},{"t":2019.523,"v":1.038},{"t":2019.539,"v":1.009},{"t":2019.556,"v":0.998},{"t":2019.572,"v":0.983},{"t":2019.588,"v":0.972},{"t":2019.605,"v":0.991},{"t":2019.621,"v":1.006},{"t":2019.637,"v":1.009},{"t":2019.654,"v":0.991},{"t":2019.670,"v":0.991},{"t":2019.686,"v":0.983},{"t":2019.703,"v":0.959},{"t":2019.719,"v":0.962},{"t":2019.735,"v":0.947},{"t":2019.752,"v":0.950},{"t":2019.768,"v":1.085},{"t":2019.784,"v":1.056},{"t":2019.801,"v":1.022},{"t":2019.817,"v":1.006},{"t":2019.833,"v":0.987},{"t":2019.850,"v":0.978},{"t":2019.866,"v":0.991},{"t":2019.882,"v":0.983},{"t":2019.899,"v":0.972},{"t":2019.915,"v":0.959},{"t":2019.931,"v":0.956},{"t":2019.948,"v":0.941},{"t":2019.964,"v":0.928},{"t":2019.980,"v":0.912},{"t":2019.996,"v":0.905}
    ]
  },
  "vconcat": [
    {
      "width": 814,
      "height": 243,
      "data": {"name": "covar"},
      "title": {"text": "CoVaR (K=95%)", "fontSize": 24, "fontWeight": "bold", "font": "Liberation Sans", "color": "#000000", "frame": "group", "anchor": "middle", "offset": -21, "baseline": "alphabetic"},
      "layer": [
        {
          "mark": {"type": "line", "color": "#0072BD", "strokeWidth": 1.3, "clip": true},
          "encoding": {
            "x": {"field": "t", "type": "quantitative", "scale": {"domain": [2010.037, 2020.0], "nice": false, "zero": false},
                  "axis": {"orient": "bottom", "values": [2011,2012,2013,2014,2015,2016,2017,2018,2019,2020], "format": "d", "title": "Time", "labelBaseline": "alphabetic", "labelPadding": 39, "titleY": 64, "titleBaseline": "alphabetic"}},
            "y": {"field": "v", "type": "quantitative", "scale": {"domain": [1.5, 3.5], "nice": false, "zero": false},
                  "axis": {"orient": "left", "values": [1.5,2,2.5,3,3.5], "format": "~g", "title": "Value", "labelPadding": 17, "labelBaseline": "middle", "labelOffset": 4, "titleX": -49, "titleY": 123, "titleAngle": 270, "titleAlign": "center", "titleBaseline": "alphabetic"}}
          }
        },
        {
          "mark": {"type": "line", "strokeOpacity": 0},
          "encoding": {
            "x": {"field": "t", "type": "quantitative", "axis": {"orient": "top", "values": [2011,2012,2013,2014,2015,2016,2017,2018,2019,2020], "labels": false, "title": null}},
            "y": {"field": "v", "type": "quantitative", "axis": {"orient": "right", "values": [1.5,2,2.5,3,3.5], "labels": false, "title": null}}
          }
        }
      ],
      "resolve": {"axis": {"x": "independent", "y": "independent"}}
    },
    {
      "width": 814,
      "height": 243,
      "data": {"name": "delta"},
      "title": {"text": "Delta CoVaR (K=95%)", "fontSize": 24, "fontWeight": "bold", "font": "Liberation Sans", "color": "#000000", "frame": "group", "anchor": "middle", "offset": -21, "baseline": "alphabetic"},
      "layer": [
        {
          "mark": {"type": "line", "color": "#0072BD", "strokeWidth": 1.3, "clip": true},
          "encoding": {
            "x": {"field": "t", "type": "quantitative", "scale": {"domain": [2010.037, 2020.0], "nice": false, "zero": false},
                  "axis": {"orient": "bottom", "values": [2011,2012,2013,2014,2015,2016,2017,2018,2019,2020], "format": "d", "title": "Time", "labelBaseline": "alphabetic", "labelPadding": 39, "titleY": 64, "titleBaseline": "alphabetic"}},
            "y": {"field": "v", "type": "quantitative", "scale": {"domain": [0.86, 2], "nice": false, "zero": false},
                  "axis": {"orient": "left", "values": [1,1.5,2], "format": "~g", "title": "Value", "labelPadding": 17, "labelBaseline": "middle", "labelOffset": 4, "titleX": -49, "titleY": 123, "titleAngle": 270, "titleAlign": "center", "titleBaseline": "alphabetic"}}
          }
        },
        {
          "mark": {"type": "line", "strokeOpacity": 0},
          "encoding": {
            "x": {"field": "t", "type": "quantitative", "axis": {"orient": "top", "values": [2011,2012,2013,2014,2015,2016,2017,2018,2019,2020], "labels": false, "title": null}},
            "y": {"field": "v", "type": "quantitative", "axis": {"orient": "right", "values": [1,1.5,2], "labels": false, "title": null}}
          }
        }
      ],
      "resolve": {"axis": {"x": "independent", "y": "independent"}}
    }
  ]
}
